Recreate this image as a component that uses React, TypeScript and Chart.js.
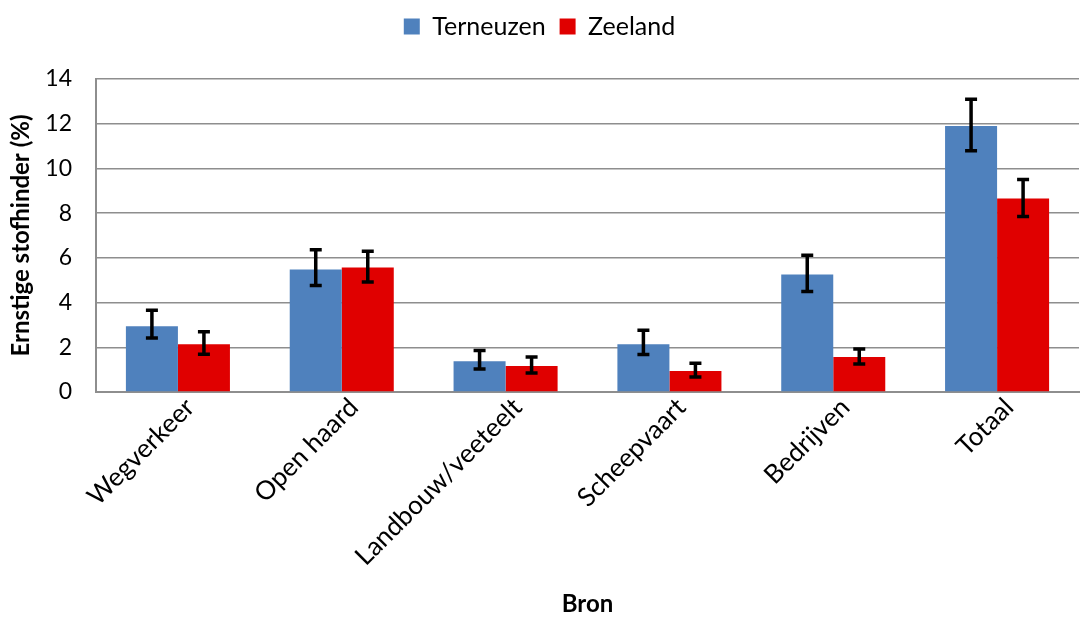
import React, { useEffect, useRef } from "react";
import { Chart, registerables } from "chart.js";

Chart.register(...registerables);

const categories = ["Wegverkeer", "Open haard", "Landbouw/veeteelt", "Scheepvaart", "Bedrijven", "Totaal"];
const terneuzen = [2.94, 5.48, 1.38, 2.14, 5.26, 11.9];
const terneuzenLow = [2.41, 4.76, 1.03, 1.68, 4.5, 10.79];
const terneuzenHigh = [3.66, 6.36, 1.86, 2.76, 6.12, 13.09];
const zeeland = [2.14, 5.57, 1.16, 0.94, 1.56, 8.65];
const zeelandLow = [1.69, 4.92, 0.85, 0.67, 1.25, 7.85];
const zeelandHigh = [2.69, 6.3, 1.56, 1.29, 1.92, 9.51];
const yTicksMax = 14;
const yStep = 2;

const FONT = "Lato";

const errorBarPlugin = {
  id: "errorBars",
  afterDatasetsDraw(chart: any) {
    const ctx = chart.ctx;
    const yScale = chart.scales.y;
    chart.data.datasets.forEach((ds: any, di: number) => {
      const meta = chart.getDatasetMeta(di);
      if (meta.hidden) return;
      meta.data.forEach((bar: any, i: number) => {
        const lo = ds.errLow[i];
        const hi = ds.errHigh[i];
        const x = bar.x;
        const yTop = yScale.getPixelForValue(hi);
        const yBot = yScale.getPixelForValue(lo);
        ctx.save();
        ctx.strokeStyle = "#000";
        ctx.lineWidth = 3.5;
        ctx.beginPath();
        ctx.moveTo(x, yTop);
        ctx.lineTo(x, yBot);
        ctx.moveTo(x - 6, yTop);
        ctx.lineTo(x + 6, yTop);
        ctx.moveTo(x - 6, yBot);
        ctx.lineTo(x + 6, yBot);
        ctx.stroke();
        ctx.restore();
      });
    });
  },
};

const legendSpacePlugin = {
  id: "legendSpace",
  beforeInit(chart: any) {
    const legend = chart.legend;
    if (!legend) return;
    const origFit = legend.fit;
    legend.fit = function () {
      origFit.call(this);
      this.height += 30;
    };
  },
};

export default function App() {
  const ref = useRef<HTMLCanvasElement>(null);
  useEffect(() => {
    if (!ref.current) return;
    const chart = new Chart(ref.current, {
      type: "bar",
      data: {
        labels: categories,
        datasets: [
          {
            label: "Terneuzen",
            data: terneuzen,
            backgroundColor: "#4F81BD",
            errLow: terneuzenLow,
            errHigh: terneuzenHigh,
          } as any,
          {
            label: "Zeeland",
            data: zeeland,
            backgroundColor: "#E00000",
            errLow: zeelandLow,
            errHigh: zeelandHigh,
          } as any,
        ],
      },
      options: {
        animation: false,
        responsive: false,
        layout: { padding: { top: 0, right: 2, left: 0, bottom: 0 } },
        datasets: { bar: { barPercentage: 1, categoryPercentage: 0.635 } },
        plugins: {
          legend: {
            position: "top",
            labels: {
              font: { family: FONT, size: 25 },
              color: "#000",
              boxWidth: 16,
              boxHeight: 16,
              padding: 14,
            },
          },
          tooltip: { enabled: false },
        },
        scales: {
          x: {
            grid: { display: false, drawTicks: false },
            border: { display: true, color: "#8e8e8e", width: 2 },
            ticks: {
              font: { family: FONT, size: 26 },
              color: "#000",
              minRotation: 45,
              maxRotation: 45,
              autoSkip: false,
              padding: 0,
              labelOffset: 12,
            },
            title: {
              display: true,
              text: "Bron",
              font: { family: FONT, size: 24, weight: "bold" },
              color: "#000",
              padding: { top: 0, bottom: 0 },
            },
            afterFit(scale: any) {
              scale.height = 227;
            },
          },
          y: {
            min: 0,
            max: yTicksMax,
            grid: { color: "#8e8e8e", lineWidth: 1.5, drawTicks: false },
            border: { display: true, color: "#8e8e8e", width: 2 },
            ticks: {
              stepSize: yStep,
              font: { family: FONT, size: 23 },
              color: "#000",
              padding: 24,
            },
            title: {
              display: true,
              text: "Ernstige stofhinder (%)",
              font: { family: FONT, size: 24, weight: "bold" },
              color: "#000",
              padding: { top: 7, bottom: 0 },
            },
            afterFit(scale: any) {
              scale.width = 96;
            },
          },
        },
      },
      plugins: [legendSpacePlugin, errorBarPlugin],
    } as any);
    return () => chart.destroy();
  }, []);
  return (
    <div style={{ position: "absolute", left: 0, top: 0, width: 1081, height: 619, background: "#fff" }}>
      <canvas ref={ref} width={1081} height={619} />
    </div>
  );
}
